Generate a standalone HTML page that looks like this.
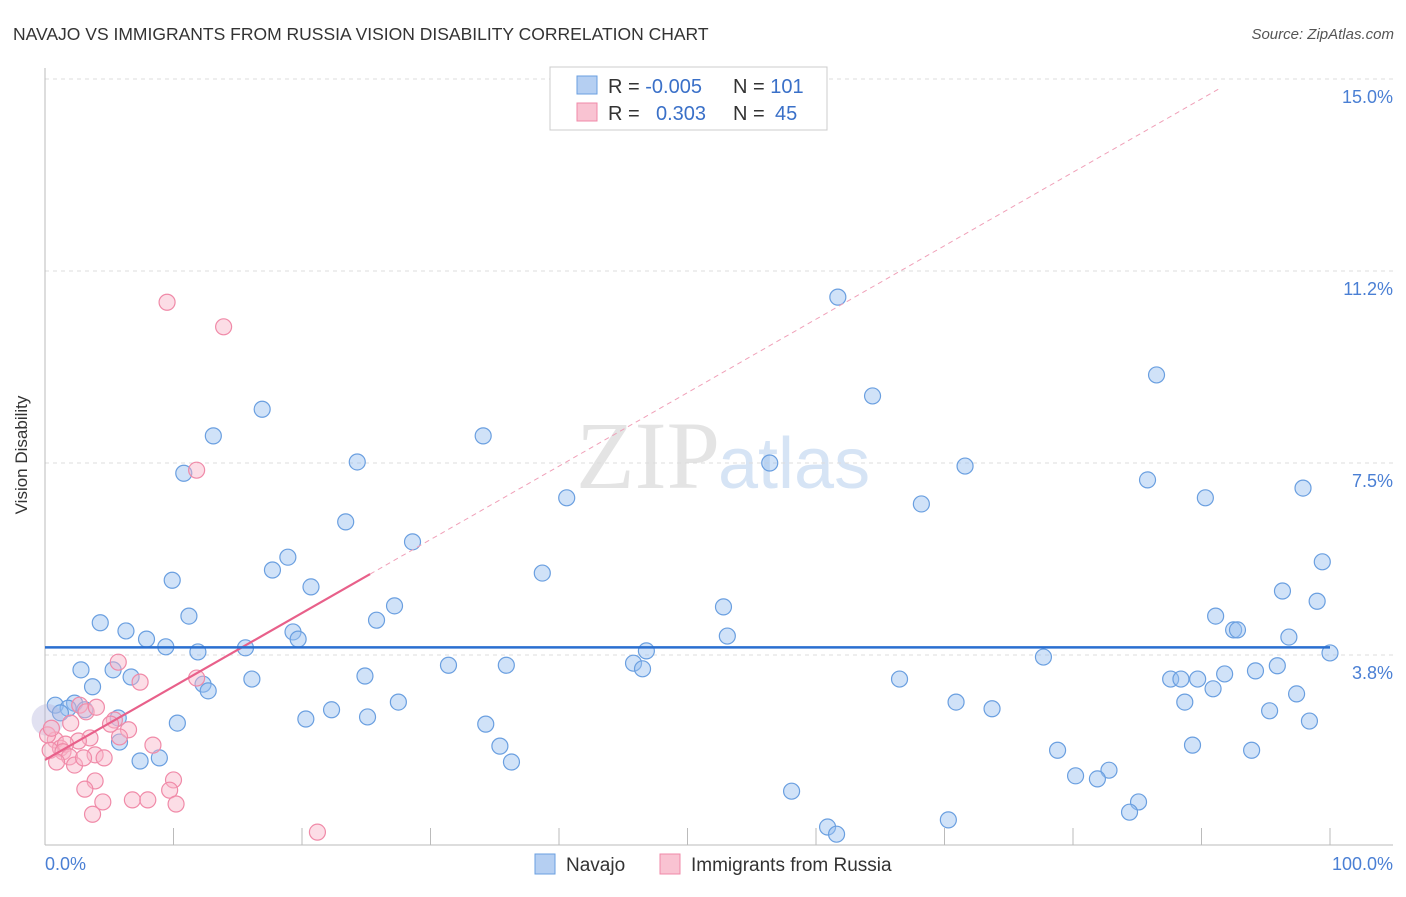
<!DOCTYPE html>
<html><head><meta charset="utf-8"><style>
body{margin:0;background:#fff;font-family:"Liberation Sans",sans-serif}
</style></head><body>
<svg id="chart" width="1406" height="892" xmlns="http://www.w3.org/2000/svg">
<text x="13" y="40" font-size="17.5" fill="#333">NAVAJO VS IMMIGRANTS FROM RUSSIA VISION DISABILITY CORRELATION CHART</text>
<text x="1394" y="39" font-size="15" fill="#555" font-style="italic" text-anchor="end">Source: ZipAtlas.com</text>
<text x="720" y="488" font-size="96" fill="#e4e4e4" text-anchor="end" font-family="Liberation Serif">ZIP</text>
<text x="718" y="488" font-size="72" fill="#d6e4f5">atlas</text>
<g id="grid"></g>
<line x1="45" y1="68" x2="45" y2="845" stroke="#bbb"/>
<line x1="45" y1="845" x2="1393" y2="845" stroke="#bbb"/>
<text x="27" y="455" font-size="17" fill="#333" text-anchor="middle" transform="rotate(-90 27 455)">Vision Disability</text>
<text x="45" y="870" font-size="18" fill="#4a7fd4">0.0%</text>
<text x="1393" y="870" font-size="18" fill="#4a7fd4" text-anchor="end">100.0%</text>
<g id="marks"></g>
<g>
<rect x="550" y="67" width="277" height="63" fill="#fff" stroke="#ccc"/>
<rect x="577" y="76" width="20" height="18" fill="#b5cff2" stroke="#6a9fe0"/>
<rect x="577" y="103" width="20" height="18" fill="#f9c3d2" stroke="#f08aa8"/>
<text x="608" y="93" font-size="20" fill="#333">R = <tspan fill="#3a70c8">-0.005</tspan></text>
<text x="733" y="93" font-size="20" fill="#333">N = <tspan fill="#3a70c8">101</tspan></text>
<text x="608" y="120" font-size="20" fill="#333">R = <tspan fill="#3a70c8" x="656">0.303</tspan></text>
<text x="733" y="120" font-size="20" fill="#333">N = <tspan fill="#3a70c8" x="775">45</tspan></text>
</g>
<g>
<rect x="535" y="854" width="20" height="20" fill="#b5cff2" stroke="#6a9fe0"/>
<text x="566" y="871" font-size="19" fill="#333">Navajo</text>
<rect x="660" y="854" width="20" height="20" fill="#f9c3d2" stroke="#f08aa8"/>
<text x="691" y="871" font-size="19" fill="#333">Immigrants from Russia</text>
</g>
</svg>
<script>
const yTicks=[3.75,7.5,11.25,15];
const yTickLabels=["3.8%","7.5%","11.2%","15.0%"];
const xTicks=[0,10,20,30,40,50,60,70,80,90,100];
const navajoX=[61.7,86.5,64.4,16.9,13.1,34.1,24.3,56.4,71.6,10.8,85.8,97.9,40.6,90.3,68.2,23.4,28.6,18.9,99.4,17.7,38.7,9.9,20.7,96.3,99.0,27.2,52.8,11.2,91.1,25.8,4.3,6.3,92.5,92.8,19.3,19.7,7.9,53.1,96.8,9.4,15.6,11.9,46.8,100,77.7,45.8,46.5,31.4,35.9,95.9,2.8,5.3,94.2,91.8,6.7,24.9,16.1,66.5,87.6,88.4,89.7,12.3,12.7,3.7,90.9,97.4,27.5,70.9,88.7,0.8,2.3,1.8,3.1,1.2,22.3,73.7,95.3,25.1,20.3,5.7,10.3,34.3,98.4,5.8,35.4,89.3,78.8,93.9,7.4,8.9,36.3,82.8,80.2,81.9,58.1,85.1,84.4,70.3,60.9,61.6,0.2];
const navajoY=[10.74,9.22,8.81,8.55,8.03,8.03,7.52,7.5,7.44,7.30,7.17,7.01,6.82,6.82,6.70,6.35,5.96,5.66,5.57,5.41,5.35,5.21,5.08,5.0,4.80,4.71,4.69,4.51,4.51,4.43,4.38,4.22,4.24,4.24,4.20,4.06,4.06,4.12,4.10,3.91,3.89,3.81,3.83,3.79,3.71,3.59,3.48,3.55,3.55,3.54,3.46,3.46,3.44,3.38,3.32,3.34,3.28,3.28,3.28,3.28,3.28,3.18,3.05,3.13,3.09,2.99,2.83,2.83,2.83,2.77,2.81,2.71,2.68,2.62,2.68,2.70,2.66,2.54,2.50,2.52,2.42,2.40,2.46,2.05,1.97,1.99,1.89,1.89,1.68,1.74,1.66,1.50,1.39,1.33,1.09,0.88,0.68,0.53,0.39,0.25,2.48];
const russiaX=[9.5,13.9,11.8,5.7,7.4,11.8,2.7,3.2,4.0,2.0,5.4,6.5,5.8,3.5,0.8,2.6,8.4,1.2,1.6,0.4,1.4,3.9,4.6,1.9,0.9,2.3,10.0,3.9,9.7,3.1,4.5,6.8,8.0,10.2,3.7,21.2,0.2,0.5,3.0,5.1];
const russiaY=[10.64,10.16,7.36,3.61,3.22,3.30,2.77,2.64,2.73,2.42,2.48,2.29,2.15,2.13,2.09,2.07,1.99,1.93,2.01,1.89,1.86,1.80,1.74,1.76,1.66,1.60,1.31,1.29,1.11,1.13,0.88,0.92,0.92,0.84,0.64,0.29,2.19,2.32,1.74,2.40];
const navajoTrend=[3.9,3.9];
const russiaTrend=[1.7,5.33];
const X=p=>45+12.85*p, Y=v=>847-51.2*v;
const NS="http://www.w3.org/2000/svg";
function mk(t,a,parent){const e=document.createElementNS(NS,t);for(const k in a)e.setAttribute(k,a[k]);parent.appendChild(e);return e;}
const grid=document.getElementById('grid'),marks=document.getElementById('marks');
yTicks.forEach((v,i)=>{
 const l=mk('line',{x1:45,x2:1393,y1:Y(v),y2:Y(v),stroke:'#ddd','stroke-dasharray':'4,4'},grid);
 
 
 const t=mk('text',{x:1393,y:Y(v)+24,'font-size':18,fill:'#4a7fd4','text-anchor':'end'},grid);
 t.textContent=yTickLabels[i];
 
 
});
xTicks.forEach(p=>{
 const l=mk('line',{x1:X(p),x2:X(p),y1:828,y2:845,stroke:'#bbb'},grid);
 
 
});
navajoX.forEach((p,i)=>{
 const big=(i===navajoX.length-1);
 const c=mk('circle',{cx:X(p),cy:Y(navajoY[i]),r:big?16:8,fill:big?'rgba(180,180,220,0.4)':'rgba(150,190,240,0.45)',stroke:big?'none':'#6a9fe0','stroke-width':1.2},marks);
 
 
});
russiaX.forEach((p,i)=>{
 const c=mk('circle',{cx:X(p),cy:Y(russiaY[i]),r:8,fill:'rgba(248,180,200,0.45)',stroke:'#f08aa8','stroke-width':1.2},marks);
 
 
});
const slope=(russiaTrend[1]-russiaTrend[0])/25.3;
const d=mk('line',{x1:X(25.3),y1:Y(russiaTrend[1]),x2:X(91.3),y2:Y(russiaTrend[0]+slope*91.3),stroke:'#f0a0b8','stroke-dasharray':'5,4','stroke-width':1},marks);


const r=mk('line',{x1:X(0),y1:Y(russiaTrend[0]),x2:X(25.3),y2:Y(russiaTrend[1]),stroke:'#e8608a','stroke-width':2.2},marks);


const b=mk('line',{x1:X(0),y1:Y(navajoTrend[0]),x2:X(100),y2:Y(navajoTrend[1]),stroke:'#2a6fd0','stroke-width':2.5},marks);


</script>
</body></html>
